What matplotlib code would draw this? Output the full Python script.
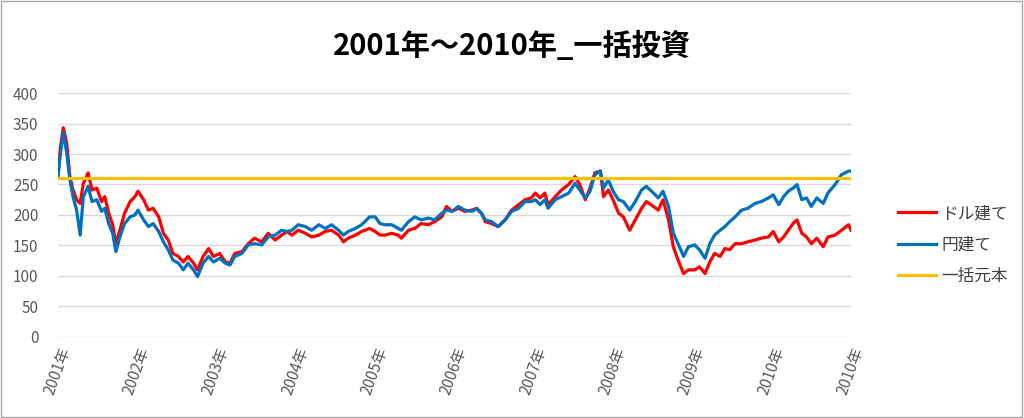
import matplotlib
matplotlib.use("Agg")
import matplotlib.pyplot as plt
from matplotlib.patches import Rectangle

plt.rcParams['font.family'] = ['Noto Sans CJK JP', 'DejaVu Sans']

# years elapsed since start of 2001
t = [0, 0.03, 0.067, 0.11, 0.15, 0.19, 0.235, 0.28, 0.32, 0.38, 0.43, 0.49, 0.55, 0.59,
     0.64, 0.69, 0.73, 0.78, 0.84, 0.91, 0.97, 1.01, 1.08, 1.14, 1.20, 1.27, 1.33,
     1.39, 1.45, 1.52, 1.58, 1.64, 1.71, 1.76, 1.83, 1.90, 1.96,
     2.04, 2.11, 2.17, 2.23, 2.32, 2.40, 2.48, 2.57, 2.65, 2.74, 2.82, 2.89, 2.95,
     3.03, 3.12, 3.20, 3.29, 3.37, 3.45, 3.54, 3.60, 3.66, 3.75, 3.83, 3.93,
     4.0, 4.06, 4.12, 4.21, 4.29, 4.33, 4.42, 4.50, 4.58, 4.67, 4.75, 4.84, 4.90,
     4.97, 5.05, 5.13, 5.22, 5.28, 5.34, 5.39, 5.47, 5.55, 5.64, 5.72, 5.81, 5.89, 5.97,
     6.02, 6.08, 6.14, 6.18, 6.27, 6.35, 6.44, 6.52, 6.58, 6.65, 6.71, 6.77, 6.84,
     6.88, 6.94, 7.00, 7.07, 7.13, 7.21, 7.28, 7.36, 7.42, 7.51, 7.57, 7.63, 7.70,
     7.76, 7.82, 7.89, 7.95,
     8.03, 8.09, 8.16, 8.22, 8.28, 8.35, 8.41, 8.47, 8.54, 8.62, 8.70, 8.79, 8.87,
     8.96, 9.02, 9.09, 9.15, 9.21, 9.27, 9.32, 9.38, 9.44, 9.50, 9.57, 9.65, 9.71,
     9.80, 9.88, 9.97, 10.0]

dollar = [262, 310, 343, 318, 263, 241, 225, 219, 252, 269, 241, 244, 222, 230,
          203, 184, 153, 175, 203, 222, 230, 239, 225, 208, 211, 197, 170,
          159, 137, 132, 123, 132, 121, 110, 132, 145, 132,
          137, 123, 121, 137, 140, 153, 162, 156, 170, 159, 167, 173, 167,
          175, 170, 164, 167, 173, 175, 167, 156, 162, 167, 173, 178,
          173, 167, 167, 170, 167, 162, 175, 178, 186, 184, 189, 197, 214,
          206, 211, 206, 208, 211, 203, 189, 186, 181, 192, 208, 217, 225, 228,
          236, 228, 236, 217, 230, 241, 250, 263, 250, 225, 244, 269, 272,
          230, 241, 225, 203, 197, 175, 192, 211, 222, 214, 208, 225, 192,
          148, 126, 104, 110,
          110, 115, 104, 123, 137, 132, 145, 143, 153, 153, 156, 159, 162,
          164, 173, 156, 164, 175, 186, 192, 170, 164, 153, 162, 148, 164,
          167, 175, 184, 175]

yen = [265, 300, 335, 302, 258, 230, 208, 167, 230, 247, 222, 225, 206, 211,
       186, 170, 140, 164, 186, 197, 200, 208, 192, 181, 186, 173, 156,
       143, 126, 121, 110, 121, 110, 99, 121, 132, 123,
       129, 121, 118, 132, 137, 151, 153, 151, 164, 167, 175, 173, 175,
       184, 181, 175, 184, 178, 184, 175, 167, 173, 178, 184, 197,
       197, 186, 184, 184, 178, 175, 189, 197, 192, 195, 192, 203, 208,
       206, 214, 208, 206, 210, 203, 192, 189, 181, 192, 206, 211, 222, 222,
       225, 217, 225, 211, 225, 230, 236, 252, 241, 228, 239, 266, 272,
       244, 258, 239, 225, 222, 208, 222, 241, 247, 236, 228, 239, 214,
       170, 153, 132, 148,
       151, 143, 129, 153, 167, 175, 181, 189, 197, 208, 211, 219, 222,
       228, 233, 217, 230, 239, 244, 250, 225, 228, 214, 228, 219, 236,
       250, 266, 272, 272]

principal = 260

tick_labels = ['2001年', '2002年', '2003年', '2004年', '2005年', '2006年',
               '2007年', '2008年', '2009年', '2010年', '2010年']

fig = plt.figure(figsize=(10.24, 4.18), dpi=100)
ax = fig.add_axes([0.0566, 0.1938, 0.7744, 0.5837])

ax.plot(t, dollar, color='#FF0000', lw=2.3, label='ドル建て')
ax.plot(t, yen, color='#0070C0', lw=2.3, label='円建て')
ax.plot([t[0], t[-1]], [principal, principal], color='#FFC000', lw=2.3, label='一括元本')

ax.set_xlim(0, 10)
ax.set_ylim(0, 400)
ax.set_yticks(range(0, 401, 50))
ax.set_xticks(range(11))
ax.set_xticklabels(tick_labels, rotation=70, ha='right', rotation_mode='anchor',
                   fontsize=11, color='#595959')
ax.tick_params(axis='y', labelsize=11, labelcolor='#595959', length=0, pad=14)
ax.tick_params(axis='x', length=0, pad=6)
ax.grid(axis='y', color='#d9d9d9', lw=1)
ax.set_axisbelow(True)
for s in ax.spines.values():
    s.set_visible(False)

fig.text(0.5, 0.89, '2001年～2010年_一括投資', ha='center', va='center',
         fontsize=21, fontweight='bold', color='#000000')

fig.legend(loc='center left', bbox_to_anchor=(0.862, 0.414), frameon=False,
           fontsize=12, handlelength=2.3, labelspacing=0.85, handletextpad=0.3,
           labelcolor='#404040')

fig.patches.append(Rectangle((0.001, 0.002), 0.997, 0.995, transform=fig.transFigure,
                             fill=False, edgecolor='#a6a6a6', lw=1))

fig.savefig('out.png', dpi=100)
